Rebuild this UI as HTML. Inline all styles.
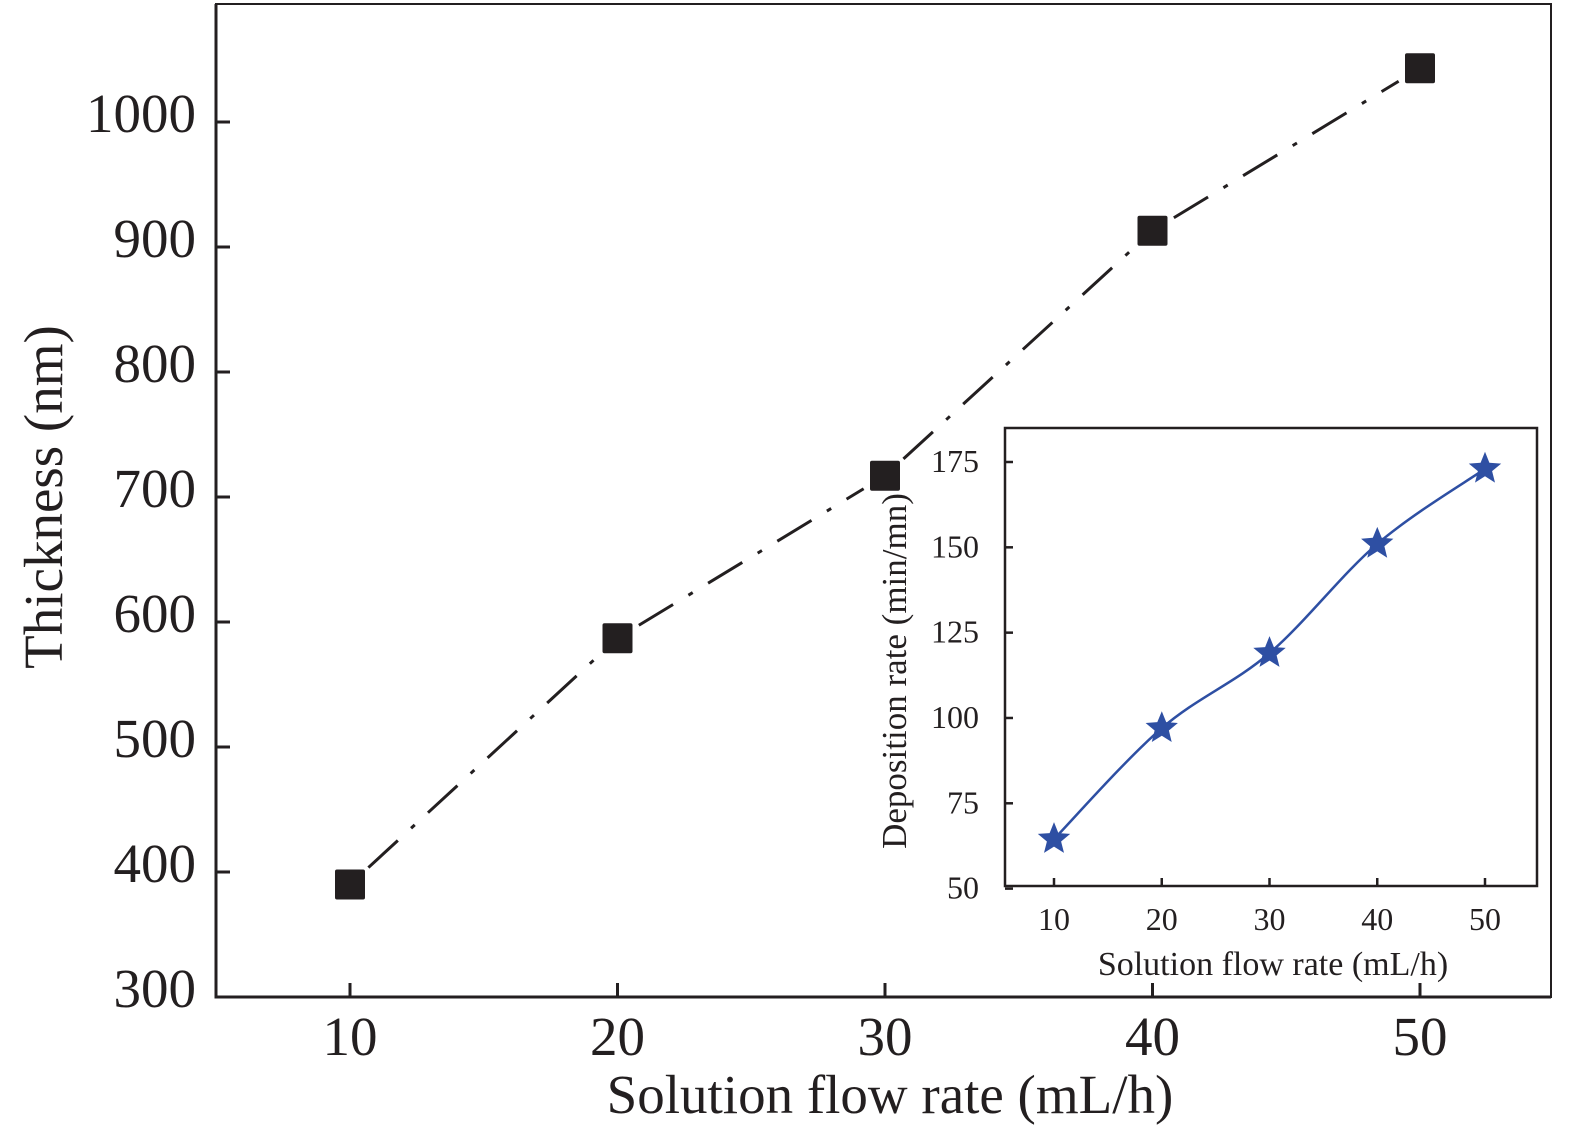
<!DOCTYPE html>
<html><head><meta charset="utf-8"><style>
html,body{margin:0;padding:0;background:#fff}
svg text{font-family:"Liberation Serif",serif;fill:#231f20}
</style></head><body>
<svg width="1575" height="1138" viewBox="0 0 1575 1138" xmlns="http://www.w3.org/2000/svg">
<g id="main"></g>
<g id="inset"></g>
</svg>
<script>
const categories=[10,20,30,40,50];
const thickness=[390,587,717,913,1043];
const yTicks=[300,400,500,600,700,800,900,1000];
const insetRate=[64.5,97,119,151,173];
const insetYTicks=[50,75,100,125,150,175];
const NS='http://www.w3.org/2000/svg';
function mk(p,t,a){const e=document.createElementNS(NS,t);for(const k in a)e.setAttribute(k,a[k]);p.appendChild(e);return e;}
const main=document.getElementById('main'),inset=document.getElementById('inset');
const X=v=>350+(v-10)*26.75, Y=v=>997-(v-300)*1.25;
let f=mk(main,'rect',{x:216,y:4,width:1335,height:993,fill:'none',stroke:'#231f20','stroke-width':2});

let ax=mk(main,'path',{d:'M216 4V997H1551',fill:'none',stroke:'#231f20','stroke-width':3});

yTicks.forEach(v=>{
 let t=mk(main,'line',{x1:216,x2:230,y1:Y(v),y2:Y(v),stroke:'#231f20','stroke-width':3});
 
 let l=mk(main,'text',{x:196,y:Y(v)+10,'text-anchor':'end','font-size':55});l.textContent=v;
 
});
categories.forEach(v=>{
 let t=mk(main,'line',{x1:X(v),x2:X(v),y1:997,y2:983,stroke:'#231f20','stroke-width':3});
 
 let l=mk(main,'text',{x:X(v),y:1055,'text-anchor':'middle','font-size':55});l.textContent=v;
 
});
let xt=mk(main,'text',{x:890,y:1113,'text-anchor':'middle','font-size':55});xt.textContent='Solution flow rate (mL/h)';

let yt=mk(main,'text',{x:0,y:0,'text-anchor':'middle','font-size':55,transform:'translate(62,497) rotate(-90)'});yt.textContent='Thickness (nm)';

let d='';
for(let i=0;i<categories.length-1;i++){
 const x1=X(categories[i]),y1=Y(thickness[i]),x2=X(categories[i+1]),y2=Y(thickness[i+1]);
 const L=Math.hypot(x2-x1,y2-y1),ux=(x2-x1)/L,uy=(y2-y1)/L,g=25;
 d+=`M${x1+ux*g} ${y1+uy*g}L${x2-ux*g} ${y2-uy*g}`;
}
let ln=mk(main,'path',{d:d,fill:'none',stroke:'#231f20','stroke-width':3,'stroke-dasharray':'40 18 5 18'});

categories.forEach((c,i)=>{
 let s=mk(main,'rect',{x:X(c)-15,y:Y(thickness[i])-15,width:30,height:30,rx:2,fill:'#231f20'});
 
});
const IX=v=>1054+(v-10)*10.775, IY=v=>462+(175-v)*3.413;
let ibg=mk(inset,'rect',{x:1005,y:428,width:532,height:458,fill:'#fff',stroke:'#231f20','stroke-width':2.5});

insetYTicks.forEach(v=>{
 let t=mk(inset,'line',{x1:1005,x2:1013,y1:IY(v),y2:IY(v),stroke:'#231f20','stroke-width':2.5});
 
 let l=mk(inset,'text',{x:979,y:IY(v)+10,'text-anchor':'end','font-size':32});l.textContent=v;
 
});
categories.forEach(v=>{
 let t=mk(inset,'line',{x1:IX(v),x2:IX(v),y1:886,y2:878,stroke:'#231f20','stroke-width':2.5});
 
 let l=mk(inset,'text',{x:IX(v),y:930,'text-anchor':'middle','font-size':32});l.textContent=v;
 
});
let ixt=mk(inset,'text',{x:1273,y:975,'text-anchor':'middle','font-size':34});ixt.textContent='Solution flow rate (mL/h)';

let iyt=mk(inset,'text',{x:0,y:0,'text-anchor':'middle','font-size':35,transform:'translate(906,671) rotate(-90)'});iyt.textContent='Deposition rate (min/mn)';

const P=categories.map((c,i)=>[IX(c),IY(insetRate[i])]);
let sd=`M${P[0][0]} ${P[0][1]}`;
for(let i=0;i<P.length-1;i++){
 const p0=P[Math.max(i-1,0)],p1=P[i],p2=P[i+1],p3=P[Math.min(i+2,P.length-1)];
 sd+=`C${p1[0]+(p2[0]-p0[0])/6} ${p1[1]+(p2[1]-p0[1])/6} ${p2[0]-(p3[0]-p1[0])/6} ${p2[1]-(p3[1]-p1[1])/6} ${p2[0]} ${p2[1]}`;
}
let sp=mk(inset,'path',{d:sd,fill:'none',stroke:'#2e4fa3','stroke-width':2.5});

function star(cx,cy,R,r){let pts=[];for(let k=0;k<10;k++){const a=-Math.PI/2+k*Math.PI/5,rr=k%2?r:R;pts.push((cx+rr*Math.cos(a)).toFixed(1)+','+(cy+rr*Math.sin(a)).toFixed(1));}return pts.join(' ');}
P.forEach(p=>{
 let s=mk(inset,'polygon',{points:star(p[0],p[1],17,7.5),fill:'#2e4fa3'});
 
});
</script>
</body></html>
